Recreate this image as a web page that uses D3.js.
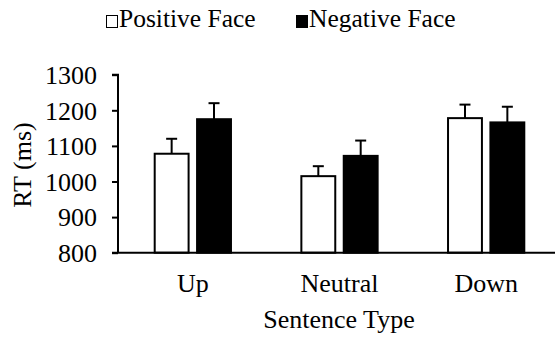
<!DOCTYPE html>
<html>
<head>
<meta charset="utf-8">
<script src="https://cdn.jsdelivr.net/npm/d3@7"></script>
<style>
  body { margin: 0; background: #fff; }
  text { font-family: "Liberation Serif", "Times New Roman", serif; fill: #000; }
</style>
</head>
<body>
<svg></svg>
<script>
var width = 555,
	height = 338;

// data
var categories = ["Up", "Neutral", "Down"];
var series = ["Positive Face", "Negative Face"];
var positiveRT = [1078, 1015, 1178];
var negativeRT = [1175, 1072, 1166];
var positiveErr = [42, 28, 38];
var negativeErr = [45, 43, 44];
var yTicks = [800, 900, 1000, 1100, 1200, 1300];

var rows = [];
categories.forEach(function(c, i) {
	rows.push({cat: c, s: series[0], v: positiveRT[i], e: positiveErr[i]});
	rows.push({cat: c, s: series[1], v: negativeRT[i], e: negativeErr[i]});
});

var fills = {"Positive Face": "#fff", "Negative Face": "#000"};
var font = "'Liberation Serif', 'Times New Roman', serif";

var svg = d3.select("svg")
			.attr("width", width)
			.attr("height", height);

var x0 = d3.scaleBand()
			.domain(categories)
			.range([119.5, 559.5])
			.paddingInner(0.48)
			.paddingOuter(0.24);
var x1 = d3.scaleBand()
			.domain(series)
			.range([0, x0.bandwidth()])
			.paddingInner(0.2);
var y = d3.scaleLinear()
			.domain([800, 1300])
			.range([252.7, 74.7]);

// y axis
var yAxis = svg.append("g")
	.attr("transform", "translate(118,0)")
	.call(d3.axisLeft(y).tickValues(yTicks).tickFormat(d3.format("d")).tickSize(6).tickPadding(15));
yAxis.select(".domain").attr("stroke-width", 2).attr("d", "M-6," + y(1300) + "H0V" + y(800));
yAxis.selectAll(".tick line").attr("stroke-width", 2);
yAxis.selectAll(".tick text")
	.style("font-family", font)
	.style("font-size", "26px")
	.attr("dy", "0.34em");

// bars
var bars = svg.append("g");
bars.selectAll("rect")
	.data(rows)
	.enter()
	.append("rect")
	.attr("x", function(d) { return x0(d.cat) + x1(d.s); })
	.attr("y", function(d) { return y(d.v); })
	.attr("width", x1.bandwidth())
	.attr("height", function(d) { return y(800) - y(d.v); })
	.attr("fill", function(d) { return fills[d.s]; })
	.attr("stroke", "#000")
	.attr("stroke-width", 2);

// error bars (upper only)
var err = svg.append("g").attr("stroke", "#000").attr("stroke-width", 2);
rows.forEach(function(d) {
	var cx = x0(d.cat) + x1(d.s) + x1.bandwidth() / 2;
	err.append("line")
		.attr("x1", cx).attr("x2", cx)
		.attr("y1", y(d.v)).attr("y2", y(d.v + d.e));
	err.append("line")
		.attr("x1", cx - 5.5).attr("x2", cx + 5.5)
		.attr("y1", y(d.v + d.e)).attr("y2", y(d.v + d.e));
});

// x axis line
svg.append("line")
	.attr("x1", 112).attr("x2", width)
	.attr("y1", y(800)).attr("y2", y(800))
	.attr("stroke", "#000")
	.attr("stroke-width", 2);

// category labels
svg.selectAll(".cat")
	.data(categories)
	.enter()
	.append("text")
	.attr("class", "cat")
	.attr("x", function(d) { return x0(d) + x0.bandwidth() / 2; })
	.attr("y", 292)
	.attr("text-anchor", "middle")
	.style("font-size", "26px")
	.text(function(d) { return d; });

// axis titles
svg.append("text")
	.attr("x", 339)
	.attr("y", 328)
	.attr("text-anchor", "middle")
	.style("font-size", "26px")
	.text("Sentence Type");

svg.append("text")
	.attr("transform", "translate(31,165) rotate(-90)")
	.attr("text-anchor", "middle")
	.style("font-size", "26px")
	.text("RT (ms)");

// legend
var legend = svg.append("g");
var legendX = [106, 296];
series.forEach(function(s, i) {
	legend.append("rect")
		.attr("x", legendX[i] + 0.5).attr("y", 15.5)
		.attr("width", 11).attr("height", 12)
		.attr("fill", fills[s])
		.attr("stroke", "#000")
		.attr("stroke-width", 1);
	legend.append("text")
		.attr("x", legendX[i] + 13)
		.attr("y", 27)
		.style("font-size", "25.5px")
		.text(s);
});
</script>
</body>
</html>
